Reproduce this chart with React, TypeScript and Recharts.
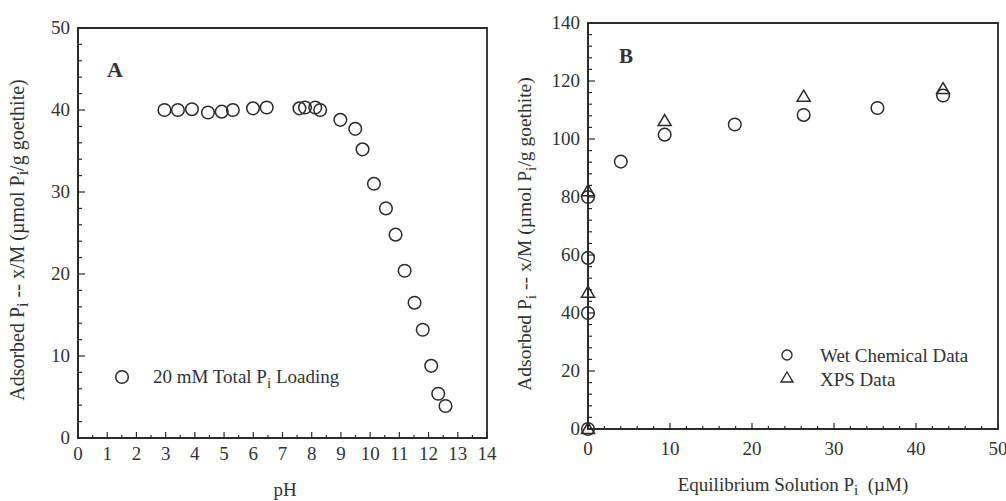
import React from "react";
import { ScatterChart, Scatter, XAxis, YAxis, ReferenceArea } from "recharts";

// Panel A: adsorption vs pH
const phValues = [2.96, 3.42, 3.9, 4.45, 4.92, 5.3, 5.99, 6.46, 7.58, 7.77, 8.12, 8.29, 8.98, 9.49, 9.74, 10.13, 10.54, 10.87, 11.18, 11.52, 11.8, 12.09, 12.33, 12.58];
const adsorbedA = [40.0, 40.0, 40.1, 39.7, 39.8, 40.0, 40.2, 40.3, 40.2, 40.3, 40.3, 40.0, 38.8, 37.7, 35.2, 31.0, 28.0, 24.8, 20.4, 16.5, 13.2, 8.8, 5.4, 3.9];

// Panel B: adsorption isotherm
const equilWet = [0, 0, 0, 0, 4.0, 9.35, 17.9, 26.3, 35.3, 43.3];
const adsorbedWet = [0, 40, 59, 80, 92.2, 101.5, 105, 108.3, 110.7, 115];
const equilXps = [0, 0, 0, 9.35, 26.3, 43.3];
const adsorbedXps = [0, 47, 82, 106.2, 114.6, 117.2];

const xTicksA = [0, 1, 2, 3, 4, 5, 6, 7, 8, 9, 10, 11, 12, 13, 14];
const yTicksA = [0, 10, 20, 30, 40, 50];
const xTicksB = [0, 10, 20, 30, 40, 50];
const yTicksB = [0, 20, 40, 60, 80, 100, 120, 140];

const minor = (max: number, step: number) =>
  Array.from({ length: Math.round(max / step) + 1 }, (_, i) => +(i * step).toFixed(3));

const dataA = phValues.map((x, i) => ({ x, y: adsorbedA[i] }));
const dataWet = equilWet.map((x, i) => ({ x, y: adsorbedWet[i] }));
const dataXps = equilXps.map((x, i) => ({ x, y: adsorbedXps[i] }));

const INK = "#2b2b2b";
const FONT = "'Liberation Serif', 'DejaVu Serif', serif";

function xTick(majors: number[], labelDy: number) {
  return (props: any) => {
    const { x, y, payload } = props;
    const major = majors.includes(payload.value);
    return (
      <g>
        <line x1={x} x2={x} y1={y} y2={y - (major ? 6 : 3)} stroke={INK} strokeWidth={1.2} />
        {major && (
          <text x={x} y={y + labelDy} textAnchor="middle" fontFamily={FONT} fontSize={19} fill="#333">
            {payload.value}
          </text>
        )}
      </g>
    );
  };
}

function yTick(majors: number[]) {
  return (props: any) => {
    const { x, y, payload } = props;
    const major = majors.includes(payload.value);
    return (
      <g>
        <line x1={x} x2={x + (major ? 7 : 4)} y1={y} y2={y} stroke={INK} strokeWidth={1.2} />
        {major && (
          <text x={x - 8} y={y + 6} textAnchor="end" fontFamily={FONT} fontSize={19} fill="#333">
            {payload.value}
          </text>
        )}
      </g>
    );
  };
}

const circle = (props: any) => (
  <circle cx={props.cx} cy={props.cy} r={6.3} fill="none" stroke={INK} strokeWidth={1.5} />
);

const triangle = (props: any) => {
  const { cx, cy } = props;
  return (
    <path
      d={`M${cx},${cy - 6.5} L${cx + 6.5},${cy + 4.5} L${cx - 6.5},${cy + 4.5} Z`}
      fill="none"
      stroke={INK}
      strokeWidth={1.5}
    />
  );
};

const Sub = ({ children }: { children: React.ReactNode }) => (
  <sub style={{ fontSize: "0.8em", verticalAlign: "-0.3em" }}>{children}</sub>
);

const abs = (left: number, top: number, extra: React.CSSProperties = {}): React.CSSProperties => ({
  position: "absolute",
  left,
  top,
  fontFamily: FONT,
  color: "#333",
  whiteSpace: "nowrap",
  lineHeight: 1,
  ...extra,
});

export default function App() {
  return (
    <div style={{ position: "absolute", left: 0, top: 0, width: 1006, height: 501, background: "#fff", overflow: "hidden" }}>
      <div style={{ position: "absolute", left: 0, top: 0 }}>
        <ScatterChart width={500} height={501} margin={{ top: 28, right: 13, bottom: 33, left: 0 }}>
          <XAxis
            type="number"
            dataKey="x"
            domain={[0, 14]}
            ticks={minor(14, 0.5)}
            interval={0}
            tickSize={0}
            tickMargin={0}
            height={30}
            axisLine={{ stroke: INK, strokeWidth: 2 }}
            tickLine={false}
            tick={xTick(xTicksA, 22)}
          />
          <YAxis
            type="number"
            dataKey="y"
            domain={[0, 50]}
            ticks={minor(50, 2)}
            interval={0}
            tickSize={0}
            tickMargin={0}
            width={78}
            axisLine={{ stroke: INK, strokeWidth: 2 }}
            tickLine={false}
            tick={yTick(yTicksA)}
          />
          <ReferenceArea x1={0} x2={14} y1={0} y2={50} fill="none" stroke={INK} strokeWidth={1.8} />
          <Scatter data={dataA} shape={circle} isAnimationActive={false} />
        </ScatterChart>
      </div>

      <div style={{ position: "absolute", left: 500, top: 0 }}>
        <ScatterChart width={506} height={501} margin={{ top: 23, right: 8, bottom: 42, left: 0 }}>
          <XAxis
            type="number"
            dataKey="x"
            domain={[0, 50]}
            ticks={minor(50, 2)}
            interval={0}
            tickSize={0}
            tickMargin={0}
            height={30}
            axisLine={{ stroke: INK, strokeWidth: 2 }}
            tickLine={false}
            tick={xTick(xTicksB, 26)}
          />
          <YAxis
            type="number"
            dataKey="y"
            domain={[0, 140]}
            ticks={minor(140, 4)}
            interval={0}
            tickSize={0}
            tickMargin={0}
            width={88}
            axisLine={{ stroke: INK, strokeWidth: 2 }}
            tickLine={false}
            tick={yTick(yTicksB)}
          />
          <ReferenceArea x1={0} x2={50} y1={0} y2={140} fill="none" stroke={INK} strokeWidth={1.8} />
          <Scatter data={dataWet} shape={circle} isAnimationActive={false} />
          <Scatter data={dataXps} shape={triangle} isAnimationActive={false} />
        </ScatterChart>
      </div>

      {/* panel letters */}
      <div style={abs(107, 59, { fontSize: 22, fontWeight: "bold" })}>A</div>
      <div style={abs(619, 46, { fontSize: 21, fontWeight: "bold" })}>B</div>

      {/* legends */}
      <svg style={{ position: "absolute", left: 0, top: 0 }} width={1006} height={501} pointerEvents="none">
        {circle({ cx: 122, cy: 377 })}
        <circle cx={787} cy={355} r={5} fill="none" stroke={INK} strokeWidth={1.4} />
        <path d="M787,372 L793,382 L781,382 Z" fill="none" stroke={INK} strokeWidth={1.4} />
      </svg>
      <div style={abs(153, 367, { fontSize: 19 })}>
        20 mM Total P<Sub>i</Sub> Loading
      </div>
      <div style={abs(820, 346, { fontSize: 19 })}>Wet Chemical Data</div>
      <div style={abs(820, 370, { fontSize: 19 })}>XPS Data</div>

      {/* axis titles */}
      <div style={abs(285, 489, { fontSize: 19, transform: "translate(-50%, -50%)" })}>pH</div>
      <div style={abs(793, 486, { fontSize: 19, transform: "translate(-50%, -50%)" })}>
        Equilibrium Solution P<Sub>i</Sub>&nbsp; (µM)
      </div>
      <div style={abs(19, 240, { fontSize: 20, transform: "translate(-50%, -50%) rotate(-90deg)" })}>
        Adsorbed P<Sub>i</Sub> -- x/M (µmol P<Sub>i</Sub>/g goethite)
      </div>
      <div style={abs(527, 234, { fontSize: 19.5, transform: "translate(-50%, -50%) rotate(-90deg)" })}>
        Adsorbed P<Sub>i</Sub> -- x/M (µmol P<Sub>i</Sub>/g goethite)
      </div>
    </div>
  );
}
